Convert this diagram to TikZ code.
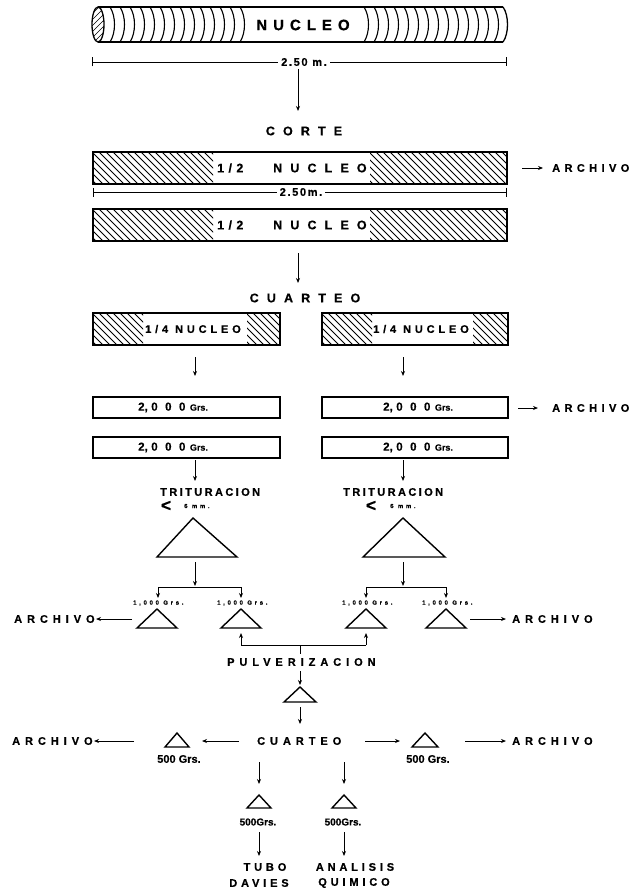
\documentclass[tikz,border=0pt]{standalone}
\usepackage{fontspec}
\setmainfont{Liberation Sans}
\newfontfamily\lsA{Liberation Sans Bold}[LetterSpace=45,FakeBold=0.6]
\newfontfamily\lsG{Liberation Sans Bold}[LetterSpace=40,FakeBold=0.6]
\newfontfamily\lsB{Liberation Sans Bold}[LetterSpace=65,FakeBold=0.6]
\newfontfamily\lsC{Liberation Sans Bold}[LetterSpace=22,FakeBold=0.6]
\newfontfamily\lsF{Liberation Sans Bold}[LetterSpace=35,FakeBold=0.6]
\newfontfamily\lsE{Liberation Sans Bold}[LetterSpace=15,FakeBold=0.6]
\newfontfamily\lsN{Liberation Sans Bold}[FakeBold=0.6]
\usetikzlibrary{arrows.meta}
\newcommand{\hatchrect}[4]{%
  \begin{scope}
    \clip (#1,#2) rectangle (#3,#4);
    \foreach \k in {-50,-43,...,160} \draw[hatchline] ({#1+\k},#2) -- ++(60,60);
  \end{scope}}
\newcommand{\grstext}{{\lsN\fontsize{11.5}{11.5}\selectfont 2,}\hspace{3.5pt}{\lsB\fontsize{11.5}{11.5}\selectfont 000}\hspace{4.5pt}{\lsN\fontsize{9}{9}\selectfont Grs.}}
\begin{document}
\begin{tikzpicture}[x=1pt,y=-1pt,
  every node/.style={inner sep=0pt},
  box/.style={draw,line width=1.3pt,inner sep=0pt},
  arr/.style={line width=0.9pt,-{Stealth[length=5pt,width=4pt]}},
  ln/.style={line width=0.9pt},
  dim/.style={line width=0.8pt,{Bar[width=9pt]}-{Bar[width=9pt]}},
  hatchline/.style={line width=0.8pt},
  tri/.style={line width=1.4pt,line join=miter},
  fA/.style={font={\lsA\fontsize{11}{11}\selectfont}},
  fArch/.style={font={\lsG\fontsize{11}{11}\selectfont}},
  fB/.style={font={\lsB\fontsize{12.5}{12.5}\selectfont}},
  fTri/.style={font={\lsC\fontsize{11}{11}\selectfont}},
  fQ/.style={font={\lsF\fontsize{11}{11}\selectfont}},
  fDim/.style={font={\lsE\fontsize{11}{11}\selectfont}},
  fTiny/.style={font={\lsA\fontsize{6}{6}\selectfont}},
  fG/.style={font={\lsN\fontsize{11}{11}\selectfont}},
  fGs/.style={font={\lsN\fontsize{10}{10}\selectfont}},
  fLt/.style={font={\lsN\fontsize{17}{17}\selectfont}}
]
\fill[white] (0,0) rectangle (632,891);
\useasboundingbox (0,0) rectangle (632,891);

% ---------- core cylinder ----------
\begin{scope}
  \clip (98,24.5) ellipse [x radius=6, y radius=17.5];
  \foreach \k in {-40,-34,...,20} \draw[line width=0.7pt] ({92+\k},42) -- ++(40,-40);
\end{scope}
\draw[line width=1.3pt] (98,24.5) ellipse [x radius=6, y radius=17.5];
\draw[line width=1.3pt] (98,7) -- (503,7);
\draw[line width=1.3pt] (98,42) -- (503,42);
\draw[line width=1.3pt] (503,7) .. controls (509,15) and (509,34) .. (503,42);
\foreach \x in {110,120,...,240} \draw[line width=1.1pt] (\x,7) .. controls ({\x+6},16) and ({\x+6},33) .. (\x,42);
\foreach \x in {364,374,...,494} \draw[line width=1.1pt] (\x,7) .. controls ({\x+6},16) and ({\x+6},33) .. (\x,42);
\node[font={\lsG\fontsize{15}{15}\selectfont}] (nuc) at (303,25) {NUCLEO};

\coordinate (d1l) at (92,62); \coordinate (d1r) at (507,62);
\draw[dim] (d1l) -- (d1r);
\node[fDim,fill=white,inner xsep=3pt,inner ysep=2pt] (d1t) at (304,62) {2.50 m.};

\coordinate (a1s) at (298,69); \coordinate (a1e) at (298,111);
\draw[arr] (a1s) -- (a1e);
\node[fB] (corte) at (304,131) {CORTE};

% ---------- half cores ----------
\hatchrect{93}{152}{213}{184}
\hatchrect{370}{152}{507}{184}
\node[box,minimum width=414pt,minimum height=32pt] (half1) at (300,168) {};
\node[font={\lsF\fontsize{12.5}{12.5}\selectfont},anchor=west] (h1a) at (217,168) {1/2};
\node[fB,anchor=west] (h1b) at (273,168) {NUCLEO};
\coordinate (r1s) at (522,168); \coordinate (r1e) at (543,168);
\draw[arr] (r1s) -- (r1e);
\node[fArch,anchor=west] (arch1) at (552,168) {ARCHIVO};

\coordinate (d2l) at (93,192); \coordinate (d2r) at (507,192);
\draw[dim] (d2l) -- (d2r);
\node[fDim,fill=white,inner xsep=3pt,inner ysep=2pt] (d2t) at (301,192) {2.50m.};

\hatchrect{93}{209}{213}{241}
\hatchrect{370}{209}{507}{241}
\node[box,minimum width=414pt,minimum height=32pt] (half2) at (300,225) {};
\node[font={\lsF\fontsize{12.5}{12.5}\selectfont},anchor=west] (h2a) at (217,225) {1/2};
\node[fB,anchor=west] (h2b) at (273,225) {NUCLEO};

\coordinate (a2s) at (298,253); \coordinate (a2e) at (298,283);
\draw[arr] (a2s) -- (a2e);
\node[fB] (cuart1) at (305,298) {CUARTEO};

% ---------- quarter cores ----------
\hatchrect{93}{313}{143}{345}
\hatchrect{247}{313}{280}{345}
\node[box,minimum width=187pt,minimum height=32pt] (qL) at (186.5,329) {};
\node[fQ,anchor=west] (qLt) at (145,329) {1/4 NUCLEO};
\hatchrect{322}{313}{372}{345}
\hatchrect{473}{313}{508}{345}
\node[box,minimum width=186pt,minimum height=32pt] (qR) at (415,329) {};
\node[fQ,anchor=west] (qRt) at (373,329) {1/4 NUCLEO};

\coordinate (a3ls) at (195,357); \coordinate (a3le) at (195,376);
\coordinate (a3rs) at (403,357); \coordinate (a3re) at (403,376);
\draw[arr] (a3ls) -- (a3le);
\draw[arr] (a3rs) -- (a3re);

% ---------- 2000 g boxes ----------
\node[box,minimum width=187pt,minimum height=21pt] (gL1) at (186.5,407.5) {};
\node[box,minimum width=187pt,minimum height=21pt] (gL2) at (186.5,447.5) {};
\node[box,minimum width=186pt,minimum height=21pt] (gR1) at (415,407.5) {};
\node[box,minimum width=186pt,minimum height=21pt] (gR2) at (415,447.5) {};
\node[anchor=west] (tL1) at (138,407.5) {\grstext};
\node[anchor=west] (tL2) at (138,447.5) {\grstext};
\node[anchor=west] (tR1) at (383,407.5) {\grstext};
\node[anchor=west] (tR2) at (383,447.5) {\grstext};
\coordinate (r2s) at (518,408); \coordinate (r2e) at (538,408);
\draw[arr] (r2s) -- (r2e);
\node[fArch,anchor=west] (arch2) at (552,408) {ARCHIVO};

\coordinate (a4ls) at (195,460); \coordinate (a4le) at (195,481);
\coordinate (a4rs) at (403,460); \coordinate (a4re) at (403,481);
\draw[arr] (a4ls) -- (a4le);
\draw[arr] (a4rs) -- (a4re);

% ---------- trituracion ----------
\node[fTri,anchor=west] (trL) at (160,492) {TRITURACION};
\node[fTri,anchor=west] (trR) at (343,492) {TRITURACION};
\node[fLt] (ltL) at (166,506) {<};
\node[fTiny,anchor=west] (mmL) at (184,506) {6 mm.};
\node[fLt] (ltR) at (371,506) {<};
\node[fTiny,anchor=west] (mmR) at (390,506) {6 mm.};

\draw[tri] (193,518) -- (237,557) -- (157,557) -- cycle;
\draw[tri] (403,518) -- (445,557) -- (363,557) -- cycle;
\coordinate (bigL) at (193,557); \coordinate (bigR) at (403,557);

\coordinate (a5ls) at (195,562); \coordinate (a5le) at (195,586);
\coordinate (a5rs) at (403,562); \coordinate (a5re) at (403,586);
\draw[arr] (a5ls) -- (a5le);
\draw[arr] (a5rs) -- (a5re);

% ---------- split into 1000 g ----------
\coordinate (bL1) at (158,587); \coordinate (bL2) at (241,587);
\coordinate (bR1) at (366,587); \coordinate (bR2) at (446,587);
\coordinate (bL1e) at (158,598); \coordinate (bL2e) at (241,598);
\coordinate (bR1e) at (366,598); \coordinate (bR2e) at (446,598);
\draw[ln] (bL1) -- (bL2);
\draw[ln] (bR1) -- (bR2);
\draw[arr] (bL1) -- (bL1e);
\draw[arr] (bL2) -- (bL2e);
\draw[arr] (bR1) -- (bR1e);
\draw[arr] (bR2) -- (bR2e);

\foreach \nm/\cx in {k1/157,k2/241,k3/366,k4/446}{
  \node[fTiny] (\nm) at ({\cx+1.3},603) {1,000 Grs.};
  \draw[tri] (\cx,609) -- ({\cx+20},628) -- ({\cx-20},628) -- cycle;
}
\coordinate (r3s) at (132,619); \coordinate (r3e) at (96,619);
\draw[arr] (r3s) -- (r3e);
\node[fA,anchor=west] (arch3) at (14,619) {ARCHIVO};
\coordinate (r4s) at (470,619); \coordinate (r4e) at (506,619);
\draw[arr] (r4s) -- (r4e);
\node[fA,anchor=west] (arch4) at (512,619) {ARCHIVO};

% ---------- pulverizacion ----------
\coordinate (pL) at (241,645); \coordinate (pR) at (366,645);
\coordinate (pLe) at (241,633); \coordinate (pRe) at (366,633);
\coordinate (pC) at (300,645); \coordinate (pCe) at (300,654);
\draw[ln] (pL) -- (pR);
\draw[arr] (pL) -- (pLe);
\draw[arr] (pR) -- (pRe);
\draw[ln] (pC) -- (pCe);
\node[fA,anchor=west] (pulv) at (227,662) {PULVERIZACION};

\coordinate (a6s) at (300,671); \coordinate (a6e) at (300,685);
\draw[arr] (a6s) -- (a6e);
\draw[tri] (300,687) -- (316,702) -- (284,702) -- cycle;
\coordinate (a7s) at (300,707); \coordinate (a7e) at (300,724);
\draw[arr] (a7s) -- (a7e);

% ---------- final cuarteo ----------
\node[fA,anchor=west] (cuart2) at (257,741) {CUARTEO};
\coordinate (c2l) at (239,741); \coordinate (c2le) at (202,741);
\draw[arr] (c2l) -- (c2le);
\draw[tri] (177,733) -- (189,747) -- (165,747) -- cycle;
\node[fG] (g5L) at (179,759) {500 Grs.};
\coordinate (r5s) at (134,741); \coordinate (r5e) at (94,741);
\draw[arr] (r5s) -- (r5e);
\node[fA,anchor=west] (arch5) at (12,741) {ARCHIVO};

\coordinate (c2r) at (365,741); \coordinate (c2re) at (400,741);
\draw[arr] (c2r) -- (c2re);
\draw[tri] (425,733) -- (438,747) -- (412,747) -- cycle;
\node[fG] (g5R) at (428,759) {500 Grs.};
\coordinate (r6s) at (465,741); \coordinate (r6e) at (506,741);
\draw[arr] (r6s) -- (r6e);
\node[fA,anchor=west] (arch6) at (512,741) {ARCHIVO};

\coordinate (a8ls) at (259,762); \coordinate (a8le) at (259,784);
\coordinate (a8rs) at (344,762); \coordinate (a8re) at (344,784);
\draw[arr] (a8ls) -- (a8le);
\draw[arr] (a8rs) -- (a8re);
\draw[tri] (259,795) -- (271,808) -- (247,808) -- cycle;
\draw[tri] (344,795) -- (356,808) -- (332,808) -- cycle;
\node[fGs] (g6L) at (258,822) {500Grs.};
\node[fGs] (g6R) at (343,822) {500Grs.};
\coordinate (a9ls) at (259,832); \coordinate (a9le) at (259,856);
\coordinate (a9rs) at (344,832); \coordinate (a9re) at (344,856);
\draw[arr] (a9ls) -- (a9le);
\draw[arr] (a9rs) -- (a9re);

\node[fQ] (tubo) at (265,867) {TUBO};
\node[fQ] (davies) at (259,883) {DAVIES};
\node[fQ] (anal) at (355,867) {ANALISIS};
\node[fQ] (quim) at (354,883) {QUIMICO};
\end{tikzpicture}
\end{document}
